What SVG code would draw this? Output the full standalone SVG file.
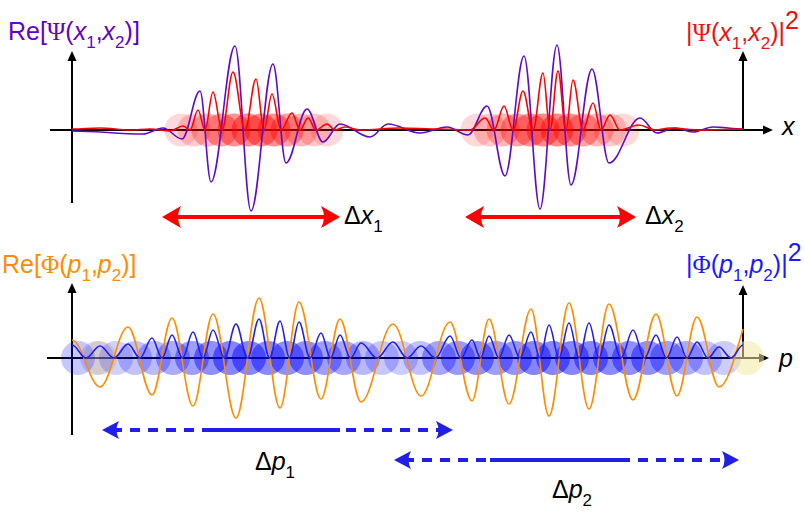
<svg xmlns="http://www.w3.org/2000/svg" width="804" height="513" viewBox="0 0 804 513">
<style>
text{font-family:"Liberation Sans",Arial,sans-serif;font-size:25px}
.g{font-family:"Liberation Serif","Times New Roman",serif}
.i{font-style:italic}
.axis{stroke:#000;stroke-width:2;fill:none}
.wave{fill:none;stroke-width:1.6;stroke-linejoin:round}
.rb{fill:#ff0000}
.bb{fill:#0000ff}
.ra{stroke:#f00;stroke-width:4;fill:none}
.ba{stroke:#1f1fe8;stroke-width:4;fill:none}
.dash{stroke-dasharray:10 8}
</style>
<defs>
<marker id="ax" markerUnits="userSpaceOnUse" viewBox="0 -5 11 10" markerWidth="11" markerHeight="10" refX="1" refY="0" orient="auto-start-reverse"><path d="M0,-4.5 L10,0 L0,4.5Z" fill="#000"/></marker>
<marker id="ahR" markerUnits="userSpaceOnUse" viewBox="0 -12 21 24" markerWidth="21" markerHeight="24" refX="8" refY="0" orient="auto-start-reverse"><path d="M0,-11 L19,0 L0,11 Q6,0 0,-11Z" fill="#f00"/></marker>
<marker id="ahB" markerUnits="userSpaceOnUse" viewBox="0 -10 19 20" markerWidth="19" markerHeight="20" refX="7" refY="0" orient="auto-start-reverse"><path d="M0,-9 L17,0 L0,9 Q5,0 0,-9Z" fill="#1f1fe8"/></marker>
</defs>

<g id="axes">
<path class="axis" d="M72,203 V60" marker-end="url(#ax)"/>
<path class="axis" d="M743,130 V60" marker-end="url(#ax)"/>
<path class="axis" d="M50,130 H764" marker-end="url(#ax)"/>
<path class="axis" d="M72,435 V292" marker-end="url(#ax)"/>
<path class="axis" d="M743,358 V294" marker-end="url(#ax)"/>
<path class="axis" d="M47,358 H760" marker-end="url(#ax)"/>
</g>

<g id="blobs-x1">
<circle class="rb" cx="181" cy="130" r="16.5" fill-opacity=".15"/>
<circle class="rb" cx="194" cy="130" r="16.5" fill-opacity=".2"/>
<circle class="rb" cx="208" cy="130" r="16.5" fill-opacity=".28"/>
<circle class="rb" cx="221" cy="130" r="16.5" fill-opacity=".36"/>
<circle class="rb" cx="234" cy="130" r="16.5" fill-opacity=".42"/>
<circle class="rb" cx="248" cy="130" r="16.5" fill-opacity=".46"/>
<circle class="rb" cx="261" cy="130" r="16.5" fill-opacity=".46"/>
<circle class="rb" cx="274" cy="130" r="16.5" fill-opacity=".42"/>
<circle class="rb" cx="287" cy="130" r="16.5" fill-opacity=".36"/>
<circle class="rb" cx="301" cy="130" r="16.5" fill-opacity=".28"/>
<circle class="rb" cx="314" cy="130" r="16.5" fill-opacity=".2"/>
<circle class="rb" cx="327" cy="130" r="16.5" fill-opacity=".15"/>
</g>
<g id="blobs-x2">
<circle class="rb" cx="477" cy="130" r="16.5" fill-opacity=".15"/>
<circle class="rb" cx="490" cy="130" r="16.5" fill-opacity=".2"/>
<circle class="rb" cx="503" cy="130" r="16.5" fill-opacity=".28"/>
<circle class="rb" cx="517" cy="130" r="16.5" fill-opacity=".36"/>
<circle class="rb" cx="530" cy="130" r="16.5" fill-opacity=".42"/>
<circle class="rb" cx="543" cy="130" r="16.5" fill-opacity=".46"/>
<circle class="rb" cx="557" cy="130" r="16.5" fill-opacity=".46"/>
<circle class="rb" cx="570" cy="130" r="16.5" fill-opacity=".42"/>
<circle class="rb" cx="583" cy="130" r="16.5" fill-opacity=".36"/>
<circle class="rb" cx="597" cy="130" r="16.5" fill-opacity=".28"/>
<circle class="rb" cx="610" cy="130" r="16.5" fill-opacity=".2"/>
<circle class="rb" cx="623" cy="130" r="16.5" fill-opacity=".15"/>
</g>

<g id="blobs-p">
<circle cx="100" cy="358" r="17" fill="#e8d88a" fill-opacity=".45"/>
<circle class="bb" cx="78" cy="358" r="17" fill-opacity=".22"/>
<circle class="bb" cx="97" cy="358" r="17" fill-opacity=".14"/>
<circle class="bb" cx="116" cy="358" r="17" fill-opacity=".18"/>
<circle class="bb" cx="135" cy="358" r="17" fill-opacity=".24"/>
<circle class="bb" cx="154" cy="358" r="17" fill-opacity=".27"/>
<circle class="bb" cx="173" cy="358" r="17" fill-opacity=".33"/>
<circle class="bb" cx="192" cy="358" r="17" fill-opacity=".38"/>
<circle class="bb" cx="211" cy="358" r="17" fill-opacity=".44"/>
<circle class="bb" cx="230" cy="358" r="17" fill-opacity=".48"/>
<circle class="bb" cx="249" cy="358" r="17" fill-opacity=".48"/>
<circle class="bb" cx="268" cy="358" r="17" fill-opacity=".46"/>
<circle class="bb" cx="287" cy="358" r="17" fill-opacity=".44"/>
<circle class="bb" cx="306" cy="358" r="17" fill-opacity=".44"/>
<circle class="bb" cx="325" cy="358" r="17" fill-opacity=".38"/>
<circle class="bb" cx="344" cy="358" r="17" fill-opacity=".35"/>
<circle class="bb" cx="363" cy="358" r="17" fill-opacity=".28"/>
<circle class="bb" cx="382" cy="358" r="17" fill-opacity=".22"/>
<circle class="bb" cx="401" cy="358" r="17" fill-opacity=".2"/>
<circle class="bb" cx="420" cy="358" r="17" fill-opacity=".24"/>
<circle class="bb" cx="439" cy="358" r="17" fill-opacity=".35"/>
<circle class="bb" cx="458" cy="358" r="17" fill-opacity=".4"/>
<circle class="bb" cx="477" cy="358" r="17" fill-opacity=".44"/>
<circle class="bb" cx="496" cy="358" r="17" fill-opacity=".38"/>
<circle class="bb" cx="515" cy="358" r="17" fill-opacity=".42"/>
<circle class="bb" cx="534" cy="358" r="17" fill-opacity=".48"/>
<circle class="bb" cx="553" cy="358" r="17" fill-opacity=".48"/>
<circle class="bb" cx="572" cy="358" r="17" fill-opacity=".48"/>
<circle class="bb" cx="591" cy="358" r="17" fill-opacity=".48"/>
<circle class="bb" cx="610" cy="358" r="17" fill-opacity=".46"/>
<circle class="bb" cx="629" cy="358" r="17" fill-opacity=".44"/>
<circle class="bb" cx="648" cy="358" r="17" fill-opacity=".44"/>
<circle class="bb" cx="667" cy="358" r="17" fill-opacity=".38"/>
<circle class="bb" cx="686" cy="358" r="17" fill-opacity=".32"/>
<circle class="bb" cx="705" cy="358" r="17" fill-opacity=".24"/>
<circle class="bb" cx="724" cy="358" r="17" fill-opacity=".2"/>
<circle cx="747" cy="358" r="17" fill="#f2e9a0" fill-opacity=".55"/>
</g>

<g id="waves">
<path id="re-psi" class="wave" stroke="#5e0cc8" d="M72,131 C97.6,131 117.4,134 143,134 C150.2,134 155.8,128 163,128 C169.8,128 175.2,139 182,139 C188.5,139 193.5,91 200,91 C204,91 207,182 211,182 C219.6,182 226.4,46 235,46 C240.8,46 245.2,211 251,211 C258.9,211 265.1,64 273,64 C277.7,64 281.3,163 286,163 C293.6,163 299.4,109 307,109 C312.8,109 317.2,142 323,142 C329.1,142 333.9,124 340,124 C350.8,124 359.2,137 370,137 C376.5,137 381.5,124 388,124 C399.5,124 408.5,133 420,133 C429.7,133 437.3,127 447,127 C454.6,127 460.4,135 468,135 C474.8,135 480.2,106 487,106 C493.5,106 498.5,176 505,176 C511.8,176 517.2,56 524,56 C529.8,56 534.2,209 540,209 C546.1,209 550.9,45 557,45 C562,45 566,185 571,185 C578.6,185 584.4,69 592,69 C598.1,69 602.9,163 609,163 C620.2,163 628.8,118 640,118 C646.1,118 650.9,133 657,133 C663.5,133 668.5,128 675,128 C681.5,128 686.5,132 693,132 C700.2,132 705.8,127 713,127 C723.8,127 732.2,129 743,129"/>
<path id="abs-psi" class="wave" stroke="#f00" d="M72,129 C82,129 90,128 100,128 C110.8,128 119.2,130 130,130 C137.2,130 142.8,129 150,129 C157.2,129 162.8,131 170,131 C174.7,131 178.3,126 183,126 C185.5,126 187.5,130 190,130 C192.9,130 195.1,110 198,110 C200.5,110 202.5,130 205,130 C207.9,130 210.1,92 213,92 C216.2,92 218.8,130 222,130 C226,130 229,72 233,72 C237.3,72 240.7,130 245,130 C249,130 252,79 256,79 C258.9,79 261.1,130 264,130 C266.9,130 269.1,94 272,94 C275.2,94 277.8,130 281,130 C285,130 288,113 292,113 C294.9,113 297.1,130 300,130 C302.9,130 305.1,118 308,118 C310.9,118 313.1,130 316,130 C320,130 323,124 327,124 C329.9,124 332.1,130 335,130 C338.6,130 341.4,127 345,127 C350.4,127 354.6,130 360,130 C374.4,130 385.6,128 400,128 C414.4,128 425.6,129 440,129 C450.8,129 459.2,130 470,130 C475.4,130 479.6,118 485,118 C488.2,118 490.8,130 494,130 C497.6,130 500.4,106 504,106 C507.2,106 509.8,130 513,130 C516.6,130 519.4,91 523,91 C526.6,91 529.4,130 533,130 C536.6,130 539.4,73 543,73 C545.5,73 547.5,130 550,130 C552.9,130 555.1,71 558,71 C560.9,71 563.1,130 566,130 C568.5,130 570.5,80 573,80 C576.6,80 579.4,130 583,130 C586.6,130 589.4,103 593,103 C595.9,103 598.1,130 601,130 C604.2,130 606.8,115 610,115 C613.6,115 616.4,130 620,130 C626.8,130 632.2,125 639,125 C644.8,125 649.2,130 655,130 C660.4,130 664.6,128 670,128 C680.8,128 689.2,130 700,130 C715.5,130 727.5,129 743,129"/>
<path id="re-phi" class="wave" stroke="#ff8c00" d="M72,340 C82,340 90,387 100,387 C110,387 118,327 128,327 C136.6,327 143.4,395 152,395 C159.2,395 164.8,318 172,318 C179.6,318 185.4,406 193,406 C200.2,406 205.8,314 213,314 C221.3,314 227.7,418 236,418 C244.3,418 250.7,298 259,298 C266.6,298 272.4,408 280,408 C286.8,408 292.2,302 299,302 C306.9,302 313.1,399 321,399 C327.8,399 333.2,319 340,319 C347.6,319 353.4,402 361,402 C372.5,402 381.5,324 393,324 C403,324 411,396 421,396 C431.4,396 439.6,322 450,322 C457.9,322 464.1,401 472,401 C478.1,401 482.9,319 489,319 C496.2,319 501.8,404 509,404 C516.9,404 523.1,309 531,309 C537.5,309 542.5,416 549,416 C556.2,416 561.8,303 569,303 C576.2,303 581.8,409 589,409 C596.2,409 601.8,304 609,304 C617.6,304 624.4,400 633,400 C641.3,400 647.7,314 656,314 C663.6,314 669.4,396 677,396 C684.2,396 689.8,317 697,317 C704.9,317 711.1,387 719,387 C727.6,387 736,352 743,329"/>
<path id="abs-phi" class="wave" stroke="#2020ea" d="M72,345 C77,345 81,358 86,358 C91,358 95,346 100,346 C105,346 109,358 114,358 C119,358 123,344 128,344 C132.3,344 135.7,358 140,358 C144.3,358 147.7,338 152,338 C155.6,338 158.4,358 162,358 C165.6,358 168.4,335 172,335 C175.8,335 178.7,358 182.5,358 C186.3,358 189.2,332 193,332 C196.6,332 199.4,358 203,358 C206.6,358 209.4,330 213,330 C217.1,330 220.4,358 224.5,358 C228.6,358 231.9,324 236,324 C240.1,324 243.4,358 247.5,358 C251.6,358 254.9,319 259,319 C262.8,319 265.7,358 269.5,358 C273.3,358 276.2,321 280,321 C283.4,321 286.1,358 289.5,358 C292.9,358 295.6,322 299,322 C303,322 306,358 310,358 C314,358 317,333 321,333 C324.4,333 327.1,358 330.5,358 C333.9,358 336.6,335 340,335 C343.8,335 346.7,358 350.5,358 C354.3,358 357.2,343 361,343 C366.8,343 371.2,358 377,358 C382.8,358 387.2,342 393,342 C398,342 402,358 407,358 C412,358 416,346 421,346 C426.2,346 430.3,358 435.5,358 C440.7,358 444.8,336 450,336 C454,336 457,358 461,358 C465,358 468,340 472,340 C475.1,340 477.4,358 480.5,358 C483.6,358 485.9,336 489,336 C492.6,336 495.4,358 499,358 C502.6,358 505.4,335 509,335 C513,335 516,358 520,358 C524,358 527,332 531,332 C534.2,332 536.8,358 540,358 C543.2,358 545.8,325 549,325 C552.6,325 555.4,358 559,358 C562.6,358 565.4,323 569,323 C572.6,323 575.4,358 579,358 C582.6,358 585.4,323 589,323 C592.6,323 595.4,358 599,358 C602.6,358 605.4,325 609,325 C613.3,325 616.7,358 621,358 C625.3,358 628.7,330 633,330 C637.1,330 640.4,358 644.5,358 C648.6,358 651.9,335 656,335 C659.8,335 662.7,358 666.5,358 C670.3,358 673.2,337 677,337 C680.6,337 683.4,358 687,358 C690.6,358 693.4,342 697,342 C701,342 704,358 708,358 C712,358 715,347 719,347 C723.3,347 726.7,358 731,358 C735.3,358 738.7,345 743,345"/>
</g>

<g id="arrows">
<path class="ra" d="M173,217 H329" marker-start="url(#ahR)" marker-end="url(#ahR)"/>
<path class="ra" d="M476,217 H625" marker-start="url(#ahR)" marker-end="url(#ahR)"/>
<path class="ba dash" d="M112,430 H443" marker-start="url(#ahB)" marker-end="url(#ahB)"/>
<path class="ba" d="M211,430 H340"/>
<path class="ba dash" d="M404,460 H729" marker-start="url(#ahB)" marker-end="url(#ahB)"/>
<path class="ba" d="M490,460 H628"/>
</g>

<g id="labels">
<text x="8" y="40" fill="#6200cc">Re[<tspan class="g">Ψ</tspan>(<tspan class="i">x</tspan><tspan dy="8" font-size="17">1</tspan><tspan dy="-8">,</tspan><tspan class="i">x</tspan><tspan dy="8" font-size="17">2</tspan><tspan dy="-8">)]</tspan></text>
<text x="686" y="41" fill="#ee1111">|<tspan class="g">Ψ</tspan>(<tspan class="i">x</tspan><tspan dy="8" font-size="17">1</tspan><tspan dy="-8">,</tspan><tspan class="i">x</tspan><tspan dy="8" font-size="17">2</tspan><tspan dy="-8">)|</tspan><tspan dy="-12">2</tspan></text>
<text x="2" y="273" fill="#ff8c00">Re[<tspan class="g">Φ</tspan>(<tspan class="i">p</tspan><tspan dy="8" font-size="17">1</tspan><tspan dy="-8">,</tspan><tspan class="i">p</tspan><tspan dy="8" font-size="17">2</tspan><tspan dy="-8">)]</tspan></text>
<text x="686" y="273" fill="#1a1aff">|<tspan class="g">Φ</tspan>(<tspan class="i">p</tspan><tspan dy="8" font-size="17">1</tspan><tspan dy="-8">,</tspan><tspan class="i">p</tspan><tspan dy="8" font-size="17">2</tspan><tspan dy="-8">)|</tspan><tspan dy="-12">2</tspan></text>
<text x="782" y="135" class="i">x</text>
<text x="779" y="367" class="i">p</text>
<text x="344" y="224">Δ<tspan class="i">x</tspan><tspan dy="8" font-size="17">1</tspan></text>
<text x="645" y="224">Δ<tspan class="i">x</tspan><tspan dy="8" font-size="17">2</tspan></text>
<text x="255" y="470">Δ<tspan class="i">p</tspan><tspan dy="8" font-size="17">1</tspan></text>
<text x="552" y="498">Δ<tspan class="i">p</tspan><tspan dy="8" font-size="17">2</tspan></text>
</g>
</svg>
